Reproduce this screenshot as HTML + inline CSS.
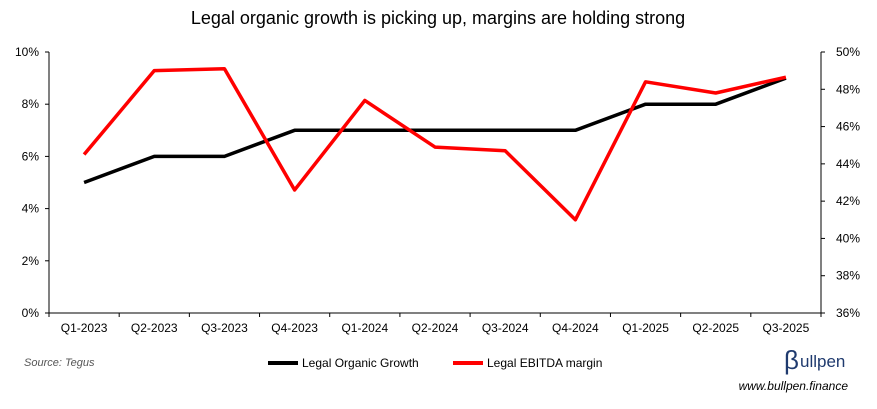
<!DOCTYPE html>
<html><head><meta charset="utf-8"><style>
body{margin:0;background:#fff;width:877px;height:404px;overflow:hidden;font-family:"Liberation Sans",sans-serif}
</style></head><body>
<svg width="877" height="404" font-family="Liberation Sans, sans-serif">
<text x="438" y="24" text-anchor="middle" font-size="18" fill="#000">Legal organic growth is picking up, margins are holding strong</text>
<g id="axes"></g>
<g id="marks"></g>
<text x="24" y="366" font-size="11" font-style="italic" fill="#555">Source: Tegus</text>
<line x1="268" y1="363" x2="298" y2="363" stroke="#000" stroke-width="4"/>
<text x="302" y="367" font-size="12">Legal Organic Growth</text>
<line x1="453" y1="363" x2="483" y2="363" stroke="#f00" stroke-width="4"/>
<text x="487" y="367" font-size="12">Legal EBITDA margin</text>
<text x="784" y="369" font-size="26" fill="#1f3a6e">β</text>
<text x="800" y="367" font-size="17" fill="#1f3a6e">ullpen</text>
<text x="848" y="390" text-anchor="end" font-size="12" font-style="italic" fill="#000">www.bullpen.finance</text>
</svg>
<script>
const categories=["Q1-2023","Q2-2023","Q3-2023","Q4-2023","Q1-2024","Q2-2024","Q3-2024","Q4-2024","Q1-2025","Q2-2025","Q3-2025"];
const organicGrowth=[5,6,6,7,7,7,7,7,8,8,9];
const ebitdaMargin=[44.5,49.0,49.1,42.6,47.4,44.9,44.7,41.0,48.4,47.8,48.65];
const leftTicks=[0,2,4,6,8,10];
const rightTicks=[36,38,40,42,44,46,48,50];
const NS="http://www.w3.org/2000/svg";
const L=49,R=821,T=52,B=313;
const band=(R-L)/categories.length;
const xs=i=>L+band*(i+0.5);
const yl=v=>B-(v-0)/(10-0)*(B-T);
const yr=v=>B-(v-36)/(50-36)*(B-T);
function mk(tag,attrs,parent){const e=document.createElementNS(NS,tag);for(const k in attrs)e.setAttribute(k,attrs[k]);parent.appendChild(e);return e;}
const ax=document.getElementById('axes'),mg=document.getElementById('marks');
let e;
e=mk('line',{x1:L,y1:T,x2:L,y2:B,stroke:'#000'},ax);


e=mk('line',{x1:R,y1:T,x2:R,y2:B,stroke:'#000'},ax);


e=mk('line',{x1:L,y1:B,x2:R,y2:B,stroke:'#000'},ax);


leftTicks.forEach(v=>{const y=yl(v);mk('line',{x1:L-4,y1:y,x2:L,y2:y,stroke:'#000'},ax);
e=mk('text',{x:L-10,y:y+4,'text-anchor':'end','font-size':12},ax);e.textContent=v+'%';

});
rightTicks.forEach(v=>{const y=yr(v);mk('line',{x1:R,y1:y,x2:R+4,y2:y,stroke:'#000'},ax);
e=mk('text',{x:R+15,y:y+4,'font-size':12},ax);e.textContent=v+'%';

});
for(let i=0;i<=categories.length;i++){const x=L+band*i;mk('line',{x1:x,y1:B,x2:x,y2:B+4,stroke:'#000'},ax);}
categories.forEach((c,i)=>{e=mk('text',{x:xs(i),y:B+19,'text-anchor':'middle','font-size':12},ax);e.textContent=c;

});
e=mk('polyline',{points:organicGrowth.map((v,i)=>xs(i)+','+yl(v)).join(' '),fill:'none',stroke:'#000','stroke-width':3.5,'stroke-linejoin':'round'},mg);


e=mk('polyline',{points:ebitdaMargin.map((v,i)=>xs(i)+','+yr(v)).join(' '),fill:'none',stroke:'#f00','stroke-width':3.5,'stroke-linejoin':'round'},mg);


</script>
</body></html>
